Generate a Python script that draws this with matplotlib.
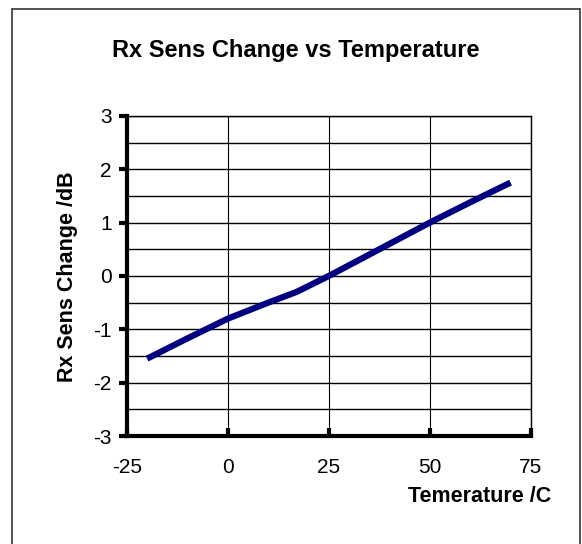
import matplotlib
matplotlib.use("Agg")
import matplotlib.pyplot as plt
from matplotlib.patches import Rectangle
from matplotlib.ticker import MultipleLocator

# data
temps = [-20, -10, 0, 10, 17, 25, 30, 40, 50, 60, 70]
sens_change = [-1.55, -1.17, -0.80, -0.50, -0.30, 0.0, 0.20, 0.60, 1.0, 1.38, 1.75]

x_ticks = [-25, 0, 25, 50, 75]
y_ticks = [-3, -2, -1, 0, 1, 2, 3]

plt.rcParams["font.family"] = ["Liberation Sans", "DejaVu Sans"]
plt.rcParams["axes.unicode_minus"] = False

fig = plt.figure(figsize=(5.82, 5.44), dpi=100)
ax = fig.add_axes([0.218, 0.1985, 0.694, 0.5885])

# outer frame round the whole chart
fig.patches.append(Rectangle((12 / 582, -0.05), 568 / 582, 1 - 9 / 544 + 0.05,
                             transform=fig.transFigure, fill=False,
                             edgecolor="#333333", linewidth=1.2))

ax.plot(temps, sens_change, color="#000080", linewidth=4.5, solid_capstyle="butt")

ax.set_xlim(-25, 75)
ax.set_ylim(-3, 3)
ax.set_xticks(x_ticks)
ax.set_yticks(y_ticks)
ax.yaxis.set_minor_locator(MultipleLocator(0.5))
ax.grid(True, which="both", axis="y", color="black", linewidth=1.0)
ax.grid(True, which="major", axis="x", color="black", linewidth=0.8)
ax.tick_params(axis="y", which="major", direction="out", length=6, width=3,
               labelsize=15, pad=5)
ax.tick_params(axis="y", which="minor", length=0)
ax.tick_params(axis="x", direction="in", length=6, width=3, labelsize=15, pad=16)

for side in ("left", "bottom"):
    ax.spines[side].set_linewidth(3)
for side in ("right", "top"):
    ax.spines[side].set_linewidth(1.0)

fig.text(68 / 582, 1 - 277 / 544, "Rx Sens Change /dB", rotation=90, ha="center",
         va="center", fontsize=15.5, fontweight="bold")
fig.text(551 / 582, 1 - 497 / 544, "Temerature /C", ha="right", va="center",
         fontsize=15.5, fontweight="bold")
fig.text(296 / 582, 1 - 50 / 544, "Rx Sens Change vs Temperature", ha="center",
         va="center", fontsize=17, fontweight="bold")

fig.savefig("out.png", dpi=100)
